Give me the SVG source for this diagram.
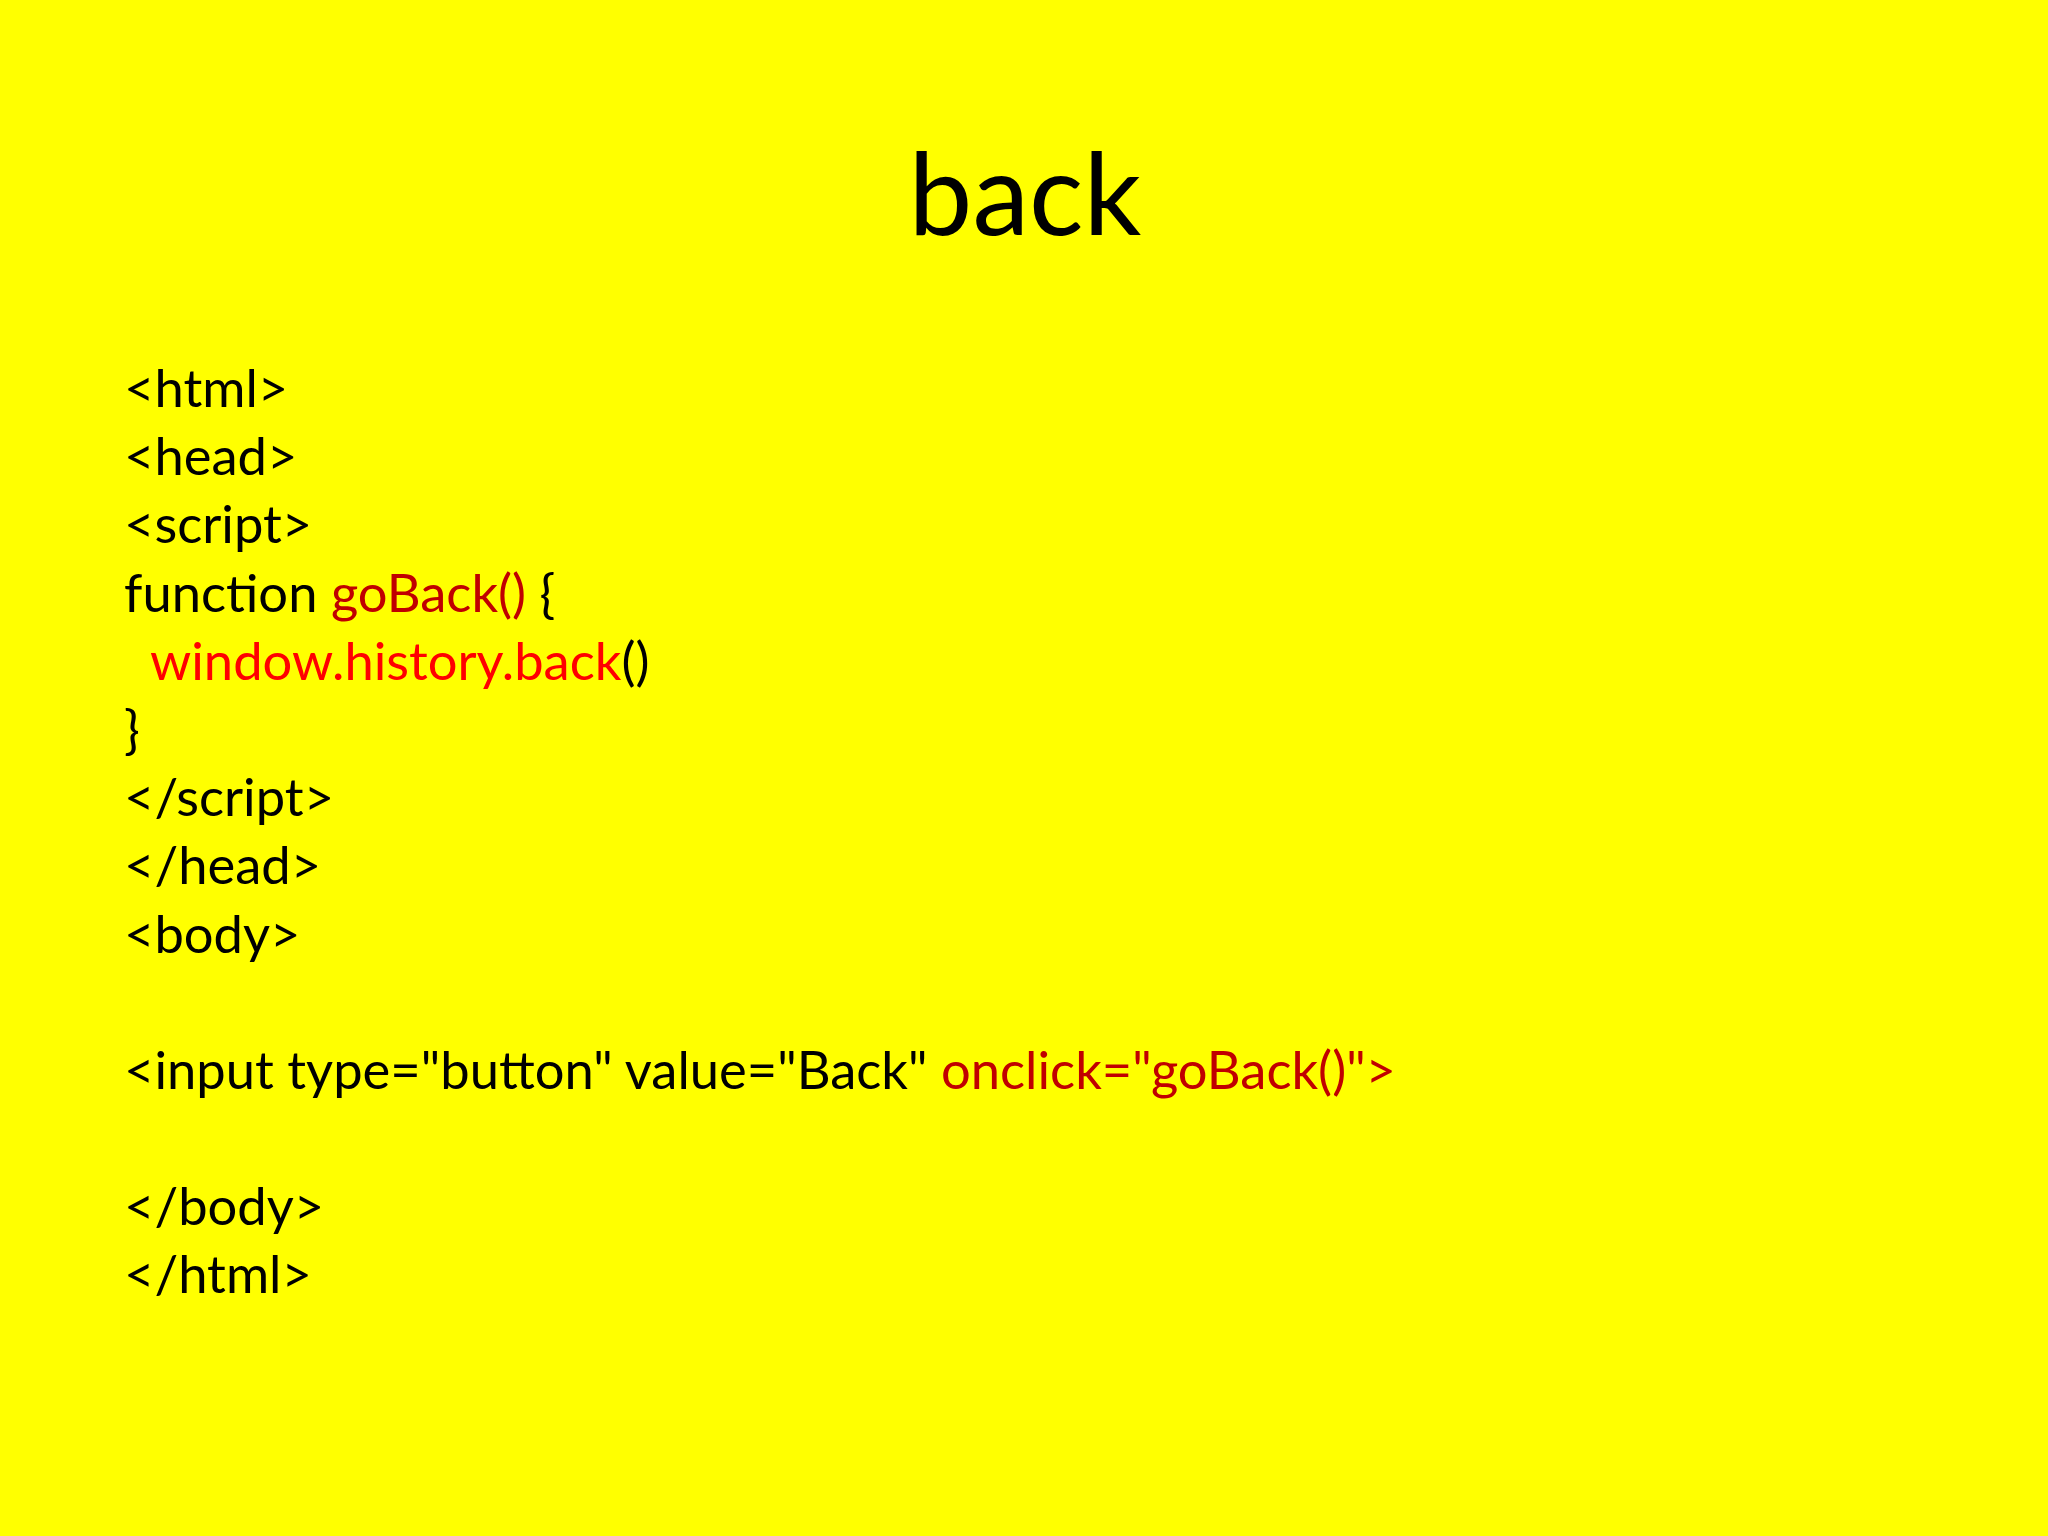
<svg xmlns="http://www.w3.org/2000/svg" width="2048" height="1536" viewBox="0 0 2048 1536">
<style>
.t{font-family:Lato,"Open Sans","Liberation Sans",sans-serif;font-size:52.5px;fill:#000}
.r{fill:#C00000}.b{fill:#FF0000}
</style>
<rect width="2048" height="1536" fill="#FFFF00"/>
<text x="1025" y="235" text-anchor="middle" style="font-family:Lato,'Open Sans',sans-serif;font-size:114px">back</text>
<g id="code" class="t">
<text class="t" x="124" y="407">&lt;html&gt;</text>
<text class="t" x="124" y="475">&lt;head&gt;</text>
<text class="t" x="124" y="543">&lt;script&gt;</text>
<text class="t" x="124" y="612">function <tspan class="r">goBack()</tspan> {</text>
<text class="t" x="150" y="680"><tspan class="b">window.history.back</tspan>()</text>
<text class="t" x="124" y="748">}</text>
<text class="t" x="124" y="816">&lt;/script&gt;</text>
<text class="t" x="124" y="884">&lt;/head&gt;</text>
<text class="t" x="124" y="953">&lt;body&gt;</text>
<text class="t" x="124" y="1089">&lt;input type="button" value="Back" <tspan class="r">onclick="goBack()"&gt;</tspan></text>
<text class="t" x="124" y="1225">&lt;/body&gt;</text>
<text class="t" x="124" y="1293">&lt;/html&gt;</text>
</g>
</svg>
